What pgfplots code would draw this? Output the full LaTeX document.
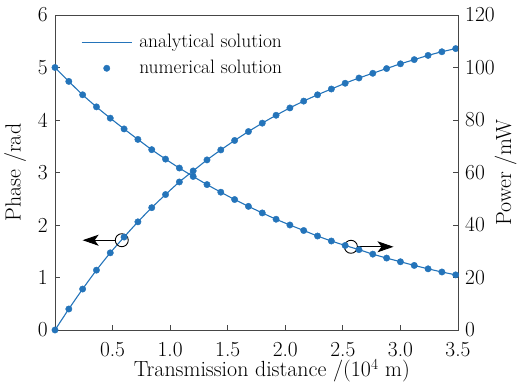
\documentclass[border=0pt]{standalone}
\usepackage{pgfplots}
\usepackage{pgfplotstable}
\pgfplotsset{compat=1.18}
\usetikzlibrary{arrows.meta}
\definecolor{cblue}{RGB}{36,116,186}
\definecolor{axgray}{RGB}{70,70,70}

\pgfplotstableread{
x     phase  power
0.00  0.00   100.0
0.12  0.40   94.7
0.24  0.78   89.6
0.36  1.14   85.0
0.48  1.47   80.7
0.60  1.77   76.6
0.72  2.06   72.6
0.84  2.33   68.7
0.96  2.58   65.1
1.08  2.82   61.7
1.20  3.03   58.5
1.32  3.24   55.4
1.44  3.43   52.5
1.56  3.61   49.7
1.68  3.78   47.1
1.80  3.94   44.6
1.92  4.09   42.2
2.04  4.23   40.0
2.16  4.36   37.9
2.28  4.48   35.8
2.40  4.59   33.9
2.52  4.70   32.2
2.64  4.80   30.6
2.76  4.89   28.9
2.88  4.98   27.4
3.00  5.07   26.0
3.12  5.15   24.6
3.24  5.23   23.3
3.36  5.30   22.1
3.48  5.36   21.0
}\datatable

\begin{document}
\begin{tikzpicture}[font=\fontsize{21.5}{25}\selectfont]
\begin{axis}[
  at={(0,0)}, anchor=south west,
  scale only axis, width=403bp, height=315bp,
  xmin=0, xmax=3.5, ymin=0, ymax=6,
  xtick={0.5,1,1.5,2,2.5,3,3.5}, ytick={0,1,2,3,4,5,6},
  xtick pos=bottom, ytick pos=left, tick align=inside,
  major tick length=5bp,
  axis line style={draw=axgray, line width=0.8bp},
  every tick/.style={axgray, line width=0.8bp},
  /pgf/number format/assume math mode=true,
  xticklabel style={inner sep=1bp, yshift=-11bp, /pgf/number format/.cd, fixed, fixed zerofill, precision=1},
  yticklabel style={inner sep=2bp, xshift=-5bp, /pgf/number format/.cd, fixed, precision=0},
  xlabel={Transmission distance /(10\textsuperscript{4} m)},
  ylabel={Phase /rad},
  label style={font=\fontsize{22}{26}\selectfont},
  xlabel style={at={(axis description cs:0.538,-0.149)}, anchor=base},
  ylabel style={at={(axis description cs:-0.099,0.5)}, anchor=center, inner sep=0pt},
  clip=false,
  legend style={draw=none, fill=none, inner sep=0pt,
    at={(axis description cs:0.0645,0.949)}, anchor=north west,
    row sep=4bp, column sep=5bp,
    font=\fontsize{19.5}{23}\selectfont,
    nodes={inner sep=2bp, text height=14bp, text depth=4bp}},
  legend cell align=left,
  legend image code/.code={\draw[mark repeat=2,mark phase=2,#1] plot coordinates {(0bp,0bp) (25bp,0bp) (50bp,0bp)};},
]
\addplot[cblue, smooth, line width=1.1bp] table[x=x,y=phase]{\datatable};
\addlegendentry{analytical solution}
\addplot[cblue, only marks, mark=*, mark size=3.2bp] table[x=x,y=phase]{\datatable};
\addlegendentry{numerical solution}
\draw[black, line width=0.9bp] (axis cs:0.58,1.71) circle[radius=6.5bp];
\draw[black, line width=0.9bp, -{Stealth[length=16bp,width=11bp,inset=4bp]}] ([xshift=-6.5bp]axis cs:0.58,1.71) -- (axis cs:0.24,1.71);
\end{axis}
\begin{axis}[
  at={(0,0)}, anchor=south west,
  scale only axis, width=403bp, height=315bp,
  xmin=0, xmax=3.5, ymin=0, ymax=120,
  axis x line=none, axis y line*=right,
  ytick={0,20,40,60,80,100,120},
  ytick align=inside,
  major tick length=5bp,
  axis line style={draw=axgray, line width=0.8bp},
  every tick/.style={axgray, line width=0.8bp},
  /pgf/number format/assume math mode=true,
  yticklabel style={inner sep=2bp, xshift=5bp},
  ylabel={Power /mW},
  label style={font=\fontsize{22}{26}\selectfont},
  ylabel style={at={(axis description cs:1.118,0.5)}, anchor=center, rotate=0, inner sep=0pt},
  clip=false,
]
\addplot[cblue, smooth, line width=1.1bp] table[x=x,y=power]{\datatable};
\addplot[cblue, only marks, mark=*, mark size=3.2bp] table[x=x,y=power]{\datatable};
\draw[black, line width=0.9bp] (axis cs:2.57,31.7) circle[radius=6.5bp];
\draw[black, line width=0.9bp, -{Stealth[length=16bp,width=11bp,inset=4bp]}] ([xshift=6.5bp]axis cs:2.57,31.7) -- (axis cs:2.94,31.7);
\end{axis}
\pgfresetboundingbox
\path[use as bounding box] (-55bp,-55bp) rectangle (462bp,330bp);
\end{tikzpicture}
\end{document}
